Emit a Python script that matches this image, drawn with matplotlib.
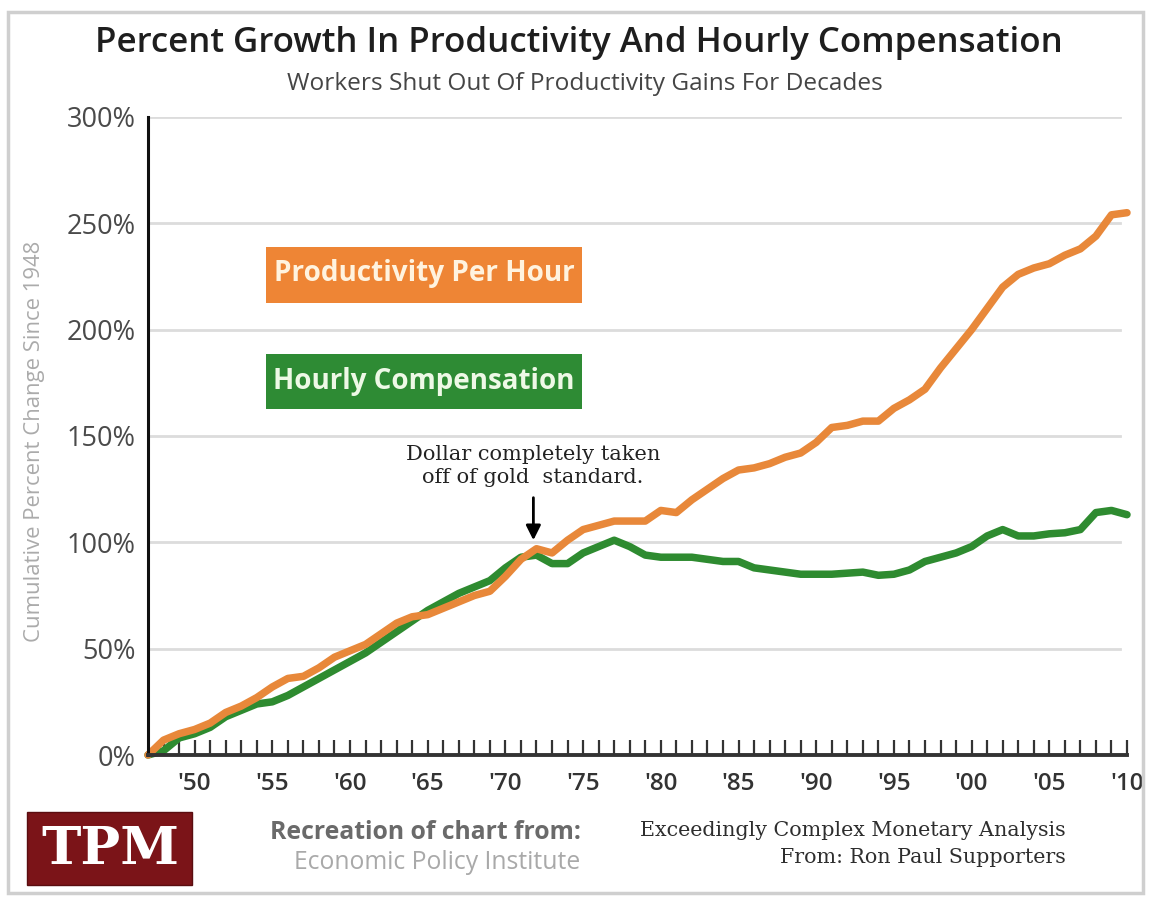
import matplotlib
matplotlib.use("Agg")
import matplotlib.pyplot as plt
from matplotlib.patches import Rectangle

# ---------------- data ----------------
years = list(range(1947, 2011))
productivity = [0, 7, 10, 12, 15, 20, 23, 27, 32, 36,
                37, 41, 46, 49, 52, 57, 62, 65, 66, 69,
                72, 75, 77, 84, 92, 97, 95, 101, 106, 108,
                110, 110, 110, 115, 114, 120, 125, 130, 134, 135,
                137, 140, 142, 147, 154, 155, 157, 157, 163, 167,
                172, 182, 191, 200, 210, 220, 226, 229, 231, 235,
                238, 244, 254, 255]
compensation = [0, 2, 8, 10, 13, 18, 21, 24, 25, 28,
                32, 36, 40, 44, 48, 53, 58, 63, 68, 72,
                76, 79, 82, 88, 93, 94, 90, 90, 95, 98,
                101, 98, 94, 93, 93, 93, 92, 91, 91, 88,
                87, 86, 85, 85, 85, 85.5, 86, 84.5, 85, 87,
                91, 93, 95, 98, 103, 106, 103, 103, 104, 104.5,
                106, 114, 115, 113]
y_ticks = [0, 50, 100, 150, 200, 250, 300]
y_tick_labels = ["0%", "50%", "100%", "150%", "200%", "250%", "300%"]
x_label_years = [1950, 1955, 1960, 1965, 1970, 1975, 1980, 1985, 1990, 1995, 2000, 2005, 2010]
x_tick_labels = ["'50", "'55", "'60", "'65", "'70", "'75", "'80", "'85", "'90", "'95", "'00", "'05", "'10"]

title = "Percent Growth In Productivity And Hourly Compensation"
subtitle = "Workers Shut Out Of Productivity Gains For Decades"
ylabel = "Cumulative Percent Change Since 1948"
legend_prod = "Productivity Per Hour"
legend_comp = "Hourly Compensation"
note_text = "Dollar completely taken\noff of gold  standard."
note_year = 1971.8

ORANGE = "#E8883A"
GREEN = "#2E8B30"
ORANGE_BOX = "#EE8535"
GREEN_BOX = "#2E8B34"

SANS = ["Open Sans", "DejaVu Sans"]
SERIF = ["DejaVu Serif"]

W, H = 1150, 897
fig = plt.figure(figsize=(W / 100, H / 100), dpi=100)
fig.patch.set_facecolor("white")


def fx(px):
    return px / W


def fy(py):
    return 1 - py / H


# frame
fig.add_artist(Rectangle((fx(8), fy(893)), fx(1143) - fx(8), fy(12) - fy(893),
                         transform=fig.transFigure, fill=False,
                         edgecolor="#cfcfcf", lw=2.5))

ax = fig.add_axes([fx(148), fy(755), fx(1127) - fx(148), fy(117) - fy(755)])
ax.set_xlim(1947, 2010)
ax.set_ylim(0, 300)

for y in y_ticks[1:]:
    ax.axhline(y, xmin=0, xmax=0.993, color="#dcdcdc", lw=2, zorder=0)

ax.plot(years, compensation, color=GREEN, lw=5.4, solid_capstyle="round",
        solid_joinstyle="round", zorder=3, clip_on=False)
ax.plot(years, productivity, color=ORANGE, lw=5.4, solid_capstyle="round",
        solid_joinstyle="round", zorder=4, clip_on=False)

for s in ["top", "right"]:
    ax.spines[s].set_visible(False)
ax.spines["left"].set_color("#111111")
ax.spines["left"].set_linewidth(2.2)
ax.spines["bottom"].set_color("#333333")
ax.spines["bottom"].set_linewidth(2.8)
ax.spines["left"].set_zorder(5)
ax.spines["bottom"].set_zorder(5)

ax.set_yticks(y_ticks)
ax.set_yticklabels(y_tick_labels)
ax.tick_params(axis="y", length=0, pad=9, labelsize=19.5, labelcolor="#4a4a4a")
for t in ax.get_yticklabels():
    t.set_family(SANS)

xt = years[1:]
lab_map = dict(zip(x_label_years, x_tick_labels))
ax.set_xticks(xt)
ax.set_xticklabels([lab_map.get(yv, "") for yv in xt])
ax.tick_params(axis="x", direction="in", length=11, width=1.6, color="#333333",
               pad=12, labelsize=17.5, labelcolor="#333333")
for t in ax.get_xticklabels():
    t.set_family(SANS)
    t.set_fontweight("semibold")

# annotation
ax.annotate("", xy=(note_year, 101), xytext=(note_year, 121),
            arrowprops=dict(arrowstyle="-|>", color="black", lw=2,
                            mutation_scale=22, shrinkA=0, shrinkB=0), zorder=6)

# texts
t_title = fig.text(fx(579), fy(43), title, ha="center", va="center", fontsize=22,
                   family=SANS, fontweight="semibold", color="#1e1e1e")
t_sub = fig.text(fx(585), fy(84), subtitle, ha="center", va="center", fontsize=14,
                 family=SANS, color="#454545")
t_ylab = fig.text(fx(35), fy(441), ylabel, ha="center", va="center", rotation=90,
                  fontsize=13, family=SANS, color="#ababab")
t_note = fig.text(fx(533), fy(466), note_text, ha="center", va="center", fontsize=13,
                  family=SERIF, color="#222222", linespacing=1.25)

# legend boxes
fig.add_artist(Rectangle((fx(266), fy(303)), fx(582) - fx(266), fy(247) - fy(303),
                         transform=fig.transFigure, facecolor=ORANGE_BOX, edgecolor="none"))
fig.add_artist(Rectangle((fx(266), fy(409)), fx(582) - fx(266), fy(354) - fy(409),
                         transform=fig.transFigure, facecolor=GREEN_BOX, edgecolor="none"))
t_lp = fig.text(fx(424), fy(274), legend_prod, ha="center", va="center", fontsize=18,
                family=SANS, fontweight="bold", color="#FFF3DF")
t_lc = fig.text(fx(424), fy(381), legend_comp, ha="center", va="center", fontsize=18,
                family=SANS, fontweight="bold", color="#EEF9E6")

# TPM logo
fig.add_artist(Rectangle((fx(27), fy(885)), fx(192) - fx(27), fy(812) - fy(885),
                         transform=fig.transFigure, facecolor="#7B1418", edgecolor="#5a0d10", lw=1))
t_tpm = fig.text(fx(110), fy(849), "TPM", ha="center", va="center", fontsize=34,
                 family=SERIF, fontweight="bold", color="white")

t_rec1 = fig.text(fx(581), fy(832), "Recreation of chart from:", ha="right", va="center",
                  fontsize=15, family=SANS, fontweight="bold", color="#6a6a6a")
t_rec2 = fig.text(fx(580), fy(862), "Economic Policy Institute", ha="right", va="center",
                  fontsize=15, family=SANS, color="#a9a9a9")
t_ex1 = fig.text(fx(1066), fy(830), "Exceedingly Complex Monetary Analysis", ha="right",
                 va="center", fontsize=13, family=SERIF, color="#2e2e2e")
t_ex2 = fig.text(fx(1066), fy(857), "From: Ron Paul Supporters", ha="right",
                 va="center", fontsize=13, family=SERIF, color="#2e2e2e")

# fit widths to reference
fig.canvas.draw()
r = fig.canvas.get_renderer()


def fit(t, target, vertical=False):
    bb = t.get_window_extent(r)
    cur = bb.height if vertical else bb.width
    t.set_fontsize(t.get_fontsize() * target / cur)


fit(t_title, 965)
fit(t_sub, 597)
fit(t_ylab, 400, vertical=True)
fit(t_lp, 302)
fit(t_lc, 303)
fit(t_tpm, 138)
fit(t_rec1, 311)
fit(t_rec2, 287)
fit(t_ex1, 426)
t_ex2.set_fontsize(t_ex1.get_fontsize())
bbn = t_note.get_window_extent(r)
t_note.set_fontsize(t_note.get_fontsize() * 253 / bbn.width)

fig.savefig("out.png", dpi=100)
